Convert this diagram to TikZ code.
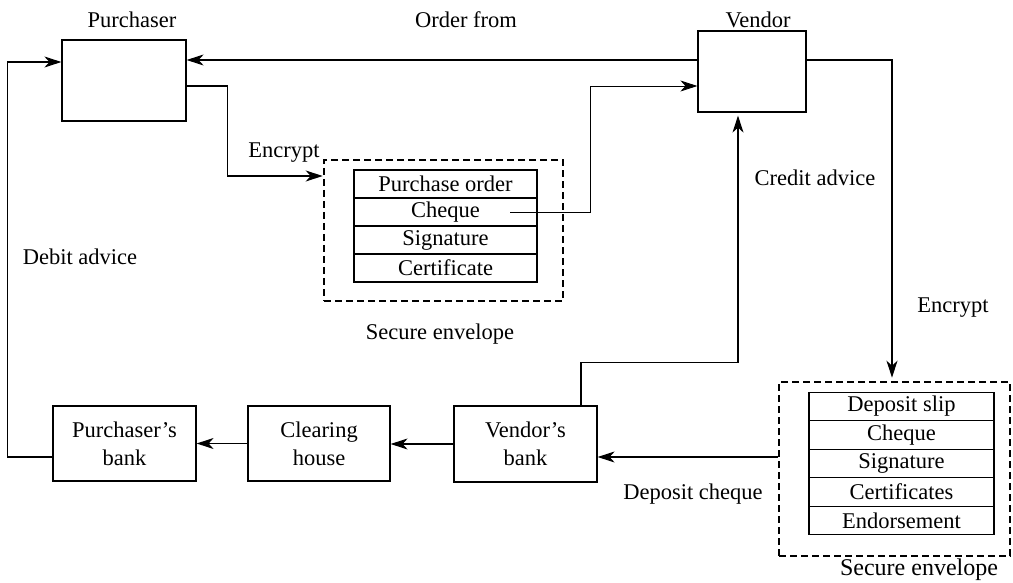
\documentclass[tikz,border=0pt]{standalone}
\usepackage{fontspec}
\setmainfont{Liberation Serif}[Ligatures=TeX]
\newfontfamily\labelfont{Liberation Serif}[Ligatures=TeX]
\usetikzlibrary{arrows.meta}

\begin{document}
\begin{tikzpicture}[x=1pt,y=-1pt,
  every node/.style={font=\labelfont\fontsize{22.5}{28}\selectfont, inner sep=0pt},
  box/.style={draw, line width=1.2pt, align=center},
  cell/.style={draw, line width=1.4pt},
  envelope/.style={draw, line width=2.6pt, dash pattern=on 7pt off 4pt},
  arr/.style={line width=1.2pt, -{Stealth[length=17pt,width=11pt,inset=5pt]}},
  thinarr/.style={arr, line width=0.9pt},
  lbl/.style={}]
\useasboundingbox (0,0) rectangle (1013,583);

% parties and banks
\node[box, minimum width=124pt, minimum height=81pt] (pur) at (124,80.5) {};
\node[box, minimum width=108pt, minimum height=81pt] (ven) at (752,71.5) {};
\node[box, minimum width=143pt, minimum height=75pt] (pbank) at (124.5,443.5) {Purchaser’s\\bank};
\node[box, minimum width=142pt, minimum height=75pt] (clear) at (319,443.5) {Clearing\\house};
\node[box, minimum width=143pt, minimum height=76pt] (vbank) at (525.5,444) {Vendor’s\\bank};

% first secure envelope
\node[envelope, minimum width=239pt, minimum height=141pt] (env1) at (443.5,230.5) {};
\node[cell, minimum width=183pt, minimum height=28pt] (po)    at (445.5,184) {Purchase order};
\node[cell, minimum width=183pt, minimum height=28pt] (chq1)  at (445.5,212) {Cheque};
\node[cell, minimum width=183pt, minimum height=28pt] (sig1)  at (445.5,240) {Signature};
\node[cell, minimum width=183pt, minimum height=28pt] (cert1) at (445.5,268) {Certificate};

% second secure envelope
\node[envelope, minimum width=231pt, minimum height=174pt] (env2) at (894.5,469) {};
\node[cell, minimum width=185pt, minimum height=28.5pt] (slip)  at (901.5,406.5) {Deposit slip};
\node[cell, minimum width=185pt, minimum height=28.5pt] (chq2)  at (901.5,435) {Cheque};
\node[cell, minimum width=185pt, minimum height=28.5pt] (sig2)  at (901.5,463.5) {Signature};
\node[cell, minimum width=185pt, minimum height=28.5pt] (cert2) at (901.5,492) {Certificates};
\node[cell, minimum width=185pt, minimum height=28.5pt] (endo)  at (901.5,520.5) {Endorsement};

% labels
\node[lbl] (lpur)   at (132,20) {Purchaser};
\node[lbl] (lven)   at (758,20) {Vendor};
\node[lbl] (lorder) at (466,20) {Order from};
\node[lbl] (lenc1)  at (284,153) {Encrypt};
\node[lbl] (lcred)  at (815,178) {Credit advice};
\node[lbl] (ldebit) at (80,257) {Debit advice};
\node[lbl] (lenc2)  at (953,308) {Encrypt};
\node[lbl] (lsec1)  at (440,334) {Secure envelope};
\node[lbl] (ldep)   at (693,494) {Deposit cheque};
\node[lbl, font=\labelfont\fontsize{24}{28}\selectfont] (lsec2)  at (919,570) {Secure envelope};

% connectors
\draw[arr] ([yshift=11.5pt]ven.west) -- ([yshift=20.5pt]pur.east);
\draw[arr] ([yshift=-13.5pt]pbank.west) -- ++(-45,0) |- ([yshift=18.5pt]pur.west);
\draw[arr] ([yshift=-5.5pt]pur.east) -- ++(41,0) |- ([yshift=54.5pt]env1.west);
\draw[thinarr] ([xshift=64.5pt]chq1.center) -- ++(80,0) |- ([yshift=-14.5pt]ven.west);
\draw[arr] ([yshift=11.5pt]ven.east) -| ([xshift=-2.5pt,yshift=3pt]env2.north);
\draw[arr] ([xshift=55.5pt]vbank.north) -- ++(0,-43) -| ([xshift=-14pt,yshift=-3pt]ven.south);
\draw[arr] ([yshift=12pt]env2.west) -- ([yshift=-13pt]vbank.east);
\draw[arr] (vbank.west) -- (clear.east |- vbank.west);
\draw[arr] (clear.west) -- (pbank.east |- clear.west);
\end{tikzpicture}
\end{document}
